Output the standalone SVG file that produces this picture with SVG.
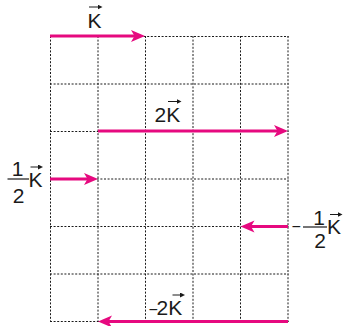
<svg xmlns="http://www.w3.org/2000/svg" width="346" height="326" viewBox="0 0 346 326">
<style>
.grid line{stroke:#1a1a1a;stroke-width:1;stroke-dasharray:2 1.6;fill:none}
.vec{stroke:#E6097F;stroke-width:3;fill:none;marker-end:url(#head)}
.lbl{font-family:"Liberation Sans",Arial,sans-serif;font-size:21px;fill:#1a1a1a}
.mn{font-size:16px}
.ov{stroke:#1a1a1a;stroke-width:1;fill:none;marker-end:url(#small)}
.bar{stroke:#1a1a1a;stroke-width:1.2}
</style>
<defs>
<marker id="head" markerUnits="userSpaceOnUse" markerWidth="16" markerHeight="14" refX="6" refY="6" orient="auto">
<path d="M0,0 L14,6 L0,12 L3.5,6 Z" fill="#E6097F"/>
</marker>
<marker id="small" markerUnits="userSpaceOnUse" markerWidth="8" markerHeight="6" refX="2" refY="2.5" orient="auto">
<path d="M0,0 L5,2.5 L0,5 Z" fill="#1a1a1a"/>
</marker>
</defs>
<rect width="346" height="326" fill="#fff"/>
<g id="grid" class="grid">
<line x1="50.5" y1="36" x2="50.5" y2="322"/>
<line x1="98" y1="36" x2="98" y2="322"/>
<line x1="145.5" y1="36" x2="145.5" y2="322"/>
<line x1="193" y1="36" x2="193" y2="322"/>
<line x1="240.5" y1="36" x2="240.5" y2="322"/>
<line x1="288" y1="36" x2="288" y2="322"/>
<line x1="50" y1="36.5" x2="288.5" y2="36.5"/>
<line x1="50" y1="84" x2="288.5" y2="84"/>
<line x1="50" y1="131.5" x2="288.5" y2="131.5"/>
<line x1="50" y1="179" x2="288.5" y2="179"/>
<line x1="50" y1="226.5" x2="288.5" y2="226.5"/>
<line x1="50" y1="274" x2="288.5" y2="274"/>
<line x1="50" y1="321.5" x2="288.5" y2="321.5"/>
</g>
<g id="connectors">
<line class="vec" x1="50" y1="36" x2="137" y2="36"/>
<line class="vec" x1="98" y1="131" x2="280" y2="131"/>
<line class="vec" x1="50" y1="179" x2="90" y2="179"/>
<line class="vec" x1="288" y1="226.5" x2="248.5" y2="226.5"/>
<line class="vec" x1="288" y1="321.5" x2="106" y2="321.5"/>
</g>
<g id="label-K">
<text class="lbl" x="87.5" y="27.5">K</text>
<line class="ov" x1="89" y1="7" x2="99.5" y2="7"/>
</g>
<g id="label-2K">
<text class="lbl" x="154.5" y="122">2K</text>
<line class="ov" x1="168" y1="101.5" x2="178.5" y2="101.5"/>
</g>
<g id="label-half-K">
<text class="lbl" x="17.5" y="176" text-anchor="middle">1</text>
<line class="bar" x1="7.5" y1="179" x2="29" y2="179"/>
<text class="lbl" x="18.5" y="202.5" text-anchor="middle">2</text>
<text class="lbl" x="28.5" y="186.5">K</text>
<line class="ov" x1="30.5" y1="167" x2="40" y2="167"/>
</g>
<g id="label-minus-half-K">
<text class="lbl mn" x="291.5" y="231.5">−</text>
<text class="lbl" x="319" y="225" text-anchor="middle">1</text>
<line class="bar" x1="303" y1="227" x2="327" y2="227"/>
<text class="lbl" x="320" y="247.5" text-anchor="middle">2</text>
<text class="lbl" x="327" y="234">K</text>
<line class="ov" x1="330" y1="214.5" x2="339.5" y2="214.5"/>
</g>
<g id="label-minus-2K">
<text class="lbl mn" x="148.5" y="315">−</text>
<text class="lbl" x="156.5" y="315">2K</text>
<line class="ov" x1="172.5" y1="295" x2="182" y2="295"/>
</g>
</svg>
